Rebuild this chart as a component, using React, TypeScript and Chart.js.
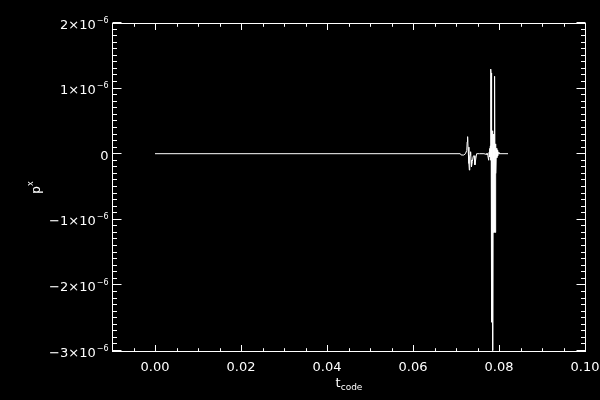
import React, { useEffect, useRef } from "react";
import { Chart, registerables } from "chart.js";

Chart.register(...registerables);

// time (t_code) values
const tValues: number[] = [
  0.0, 0.071, 0.0712, 0.0718, 0.0722, 0.0725, 0.0726, 0.0727, 0.0728, 0.073,
  0.0731, 0.0732, 0.0733, 0.0734, 0.0735, 0.0736, 0.0738, 0.074, 0.0742, 0.0744,
  0.0746, 0.0748, 0.0755, 0.0765, 0.077, 0.0772, 0.0774, 0.0776, 0.0777, 0.0778,
  0.0779, 0.078, 0.07805, 0.0781, 0.07815, 0.0782, 0.07825, 0.0783, 0.07835, 0.0784,
  0.07845, 0.0785, 0.07855, 0.0786, 0.07865, 0.0787, 0.07875, 0.0788, 0.07885, 0.0789,
  0.07895, 0.079, 0.07905, 0.0791, 0.07915, 0.0792, 0.07925, 0.0793, 0.0794, 0.0795,
  0.0796, 0.0797, 0.0798, 0.08, 0.0821,
];

// p^x values
const pxValues: number[] = [
  0, 0, -0.02e-6, -0.02e-6, 0, 0.05e-6, 0.18e-6, 0.26e-6, 0.1e-6, -0.15e-6,
  -0.25e-6, -0.05e-6, -0.02e-6, 0.03e-6, -0.1e-6, -0.2e-6, -0.12e-6, -0.04e-6, -0.03e-6, -0.17e-6,
  -0.08e-6, 0, 0, 0, -0.01e-6, 0.01e-6, -0.03e-6, -0.1e-6, 0.02e-6, 0.08e-6,
  -0.05e-6, 0.12e-6, -0.1e-6, 1.29e-6, 1.23e-6, -0.3e-6, 0.2e-6, -2.57e-6, 0.25e-6, -1.0e-6,
  0.3e-6, -1.2e-6, 0.35e-6, -3.3e-6, 0.3e-6, -1.2e-6, 0.3e-6, -1.2e-6, 0.25e-6, -1.2e-6,
  0.2e-6, -1.1e-6, 1.18e-6, -1.2e-6, 0.15e-6, -0.9e-6, 0.1e-6, -0.3e-6, 0.08e-6, -0.06e-6,
  0.05e-6, -0.03e-6, 0.02e-6, 0, 0,
];

const xMin = -0.01;
const xMax = 0.1;
const yMin = -3e-6;
const yMax = 2e-6;

const xMajorTicks: number[] = [0.0, 0.02, 0.04, 0.06, 0.08, 0.1];
const xTickLabels: string[] = ["0.00", "0.02", "0.04", "0.06", "0.08", "0.10"];
const xMinorStep = 0.005;

const yMajorTicks: number[] = [-3e-6, -2e-6, -1e-6, 0, 1e-6, 2e-6];
const yTickBase: string[] = ["\u22123\u00d710", "\u22122\u00d710", "\u22121\u00d710", "0", "1\u00d710", "2\u00d710"];
const yTickExp: string[] = ["\u22126", "\u22126", "\u22126", "", "\u22126", "\u22126"];
const yMinorStep = 1e-7;

const FONT = "DejaVu Sans";

const idlAxes = {
  id: "idlAxes",
  afterDraw(chart: any) {
    const { ctx, chartArea: a, scales } = chart;
    const xs = scales.x;
    const ys = scales.y;
    ctx.save();
    ctx.strokeStyle = "#ffffff";
    ctx.fillStyle = "#ffffff";
    ctx.lineWidth = 1;
    const L = Math.round(a.left) + 0.5;
    const R = Math.round(a.right) + 0.5;
    const T = Math.ceil(a.top) + 0.5;
    const B = Math.round(a.bottom) + 0.5;
    ctx.strokeRect(L, T, R - L, B - T);

    const xMajLen = 6.5;
    const xMinLen = 3.3;
    const yMajLen = 9;
    const yMinLen = 4.5;

    ctx.beginPath();
    for (let i = 0; ; i++) {
      const v = xMin + i * xMinorStep;
      if (v > xMax + 1e-9) break;
      const p = Math.round(xs.getPixelForValue(v)) + 0.5;
      const isMajor = xMajorTicks.some((m) => Math.abs(m - v) < 1e-9);
      const len = isMajor ? xMajLen : xMinLen;
      ctx.moveTo(p, B);
      ctx.lineTo(p, B - len);
      ctx.moveTo(p, T);
      ctx.lineTo(p, T + len);
    }
    for (let i = 0; ; i++) {
      const v = yMin + i * yMinorStep;
      if (v > yMax + 1e-12) break;
      const p = Math.round(ys.getPixelForValue(v) - 0.5) + 0.5;
      const isMajor = yMajorTicks.some((m) => Math.abs(m - v) < 1e-12);
      const len = isMajor ? yMajLen : yMinLen;
      ctx.moveTo(L, p);
      ctx.lineTo(L + len, p);
      ctx.moveTo(R, p);
      ctx.lineTo(R - len, p);
    }
    ctx.stroke();

    // x labels
    ctx.font = `13px "${FONT}"`;
    ctx.textAlign = "center";
    ctx.textBaseline = "alphabetic";
    xMajorTicks.forEach((v, i) => {
      const p = xs.getPixelForValue(v);
      ctx.fillText(xTickLabels[i], p, B + 19);
    });

    // y labels
    const rightEdge = L - 4;
    yMajorTicks.forEach((v, i) => {
      const p = ys.getPixelForValue(v);
      const base = yTickBase[i];
      const exp = yTickExp[i];
      ctx.textAlign = "left";
      ctx.font = `8px "${FONT}"`;
      const ew = exp ? ctx.measureText(exp).width + 1 : 0;
      ctx.font = `13px "${FONT}"`;
      const bw = ctx.measureText(base).width;
      const x0 = rightEdge - ew - bw;
      const baseline = p + 6;
      ctx.fillText(base, x0, baseline);
      if (exp) {
        ctx.font = `8px "${FONT}"`;
        ctx.fillText(exp, x0 + bw + 1, baseline - 6);
      }
    });

    // x title: t_code
    ctx.font = `13px "${FONT}"`;
    const tw = ctx.measureText("t").width;
    ctx.font = `9px "${FONT}"`;
    const cw = ctx.measureText("code").width;
    const cx = (L + R) / 2;
    const sx = cx - (tw + cw) / 2;
    ctx.textAlign = "left";
    ctx.font = `13px "${FONT}"`;
    ctx.fillText("t", sx, B + 35);
    ctx.font = `9px "${FONT}"`;
    ctx.fillText("code", sx + tw, B + 38);

    // y title: p^x (rotated)
    ctx.save();
    const cy = (T + B) / 2;
    ctx.translate(40, cy);
    ctx.rotate(-Math.PI / 2);
    ctx.font = `12px "${FONT}"`;
    const pw = ctx.measureText("p").width;
    ctx.font = `8px "${FONT}"`;
    const xw = ctx.measureText("x").width;
    const sx2 = -(pw + xw) / 2;
    ctx.font = `12px "${FONT}"`;
    ctx.fillText("p", sx2, 0);
    ctx.font = `8px "${FONT}"`;
    ctx.fillText("x", sx2 + pw, -7);
    ctx.restore();

    ctx.restore();
  },
};

export default function App() {
  const ref = useRef<HTMLCanvasElement | null>(null);
  useEffect(() => {
    document.body.style.margin = "0";
    document.body.style.background = "#000000";
    const canvas = ref.current!;
    const data = tValues.map((t, i) => ({ x: t, y: pxValues[i] }));
    const chart = new Chart(canvas, {
      type: "scatter",
      data: {
        datasets: [
          {
            data,
            showLine: true,
            borderColor: "#ffffff",
            borderWidth: 1,
            pointRadius: 0,
            fill: false,
            tension: 0,
          },
        ],
      },
      options: {
        responsive: false,
        animation: false,
        devicePixelRatio: 1,
        layout: { padding: { left: 112, right: 15, top: 22.5, bottom: 49.5 } },
        plugins: { legend: { display: false }, tooltip: { enabled: false } },
        scales: {
          x: { type: "linear", min: xMin, max: xMax, display: false },
          y: { type: "linear", min: yMin, max: yMax, display: false },
        },
      },
      plugins: [idlAxes],
    });
    return () => chart.destroy();
  }, []);
  return <canvas ref={ref} width={600} height={400} style={{ display: "block" }} />;
}
